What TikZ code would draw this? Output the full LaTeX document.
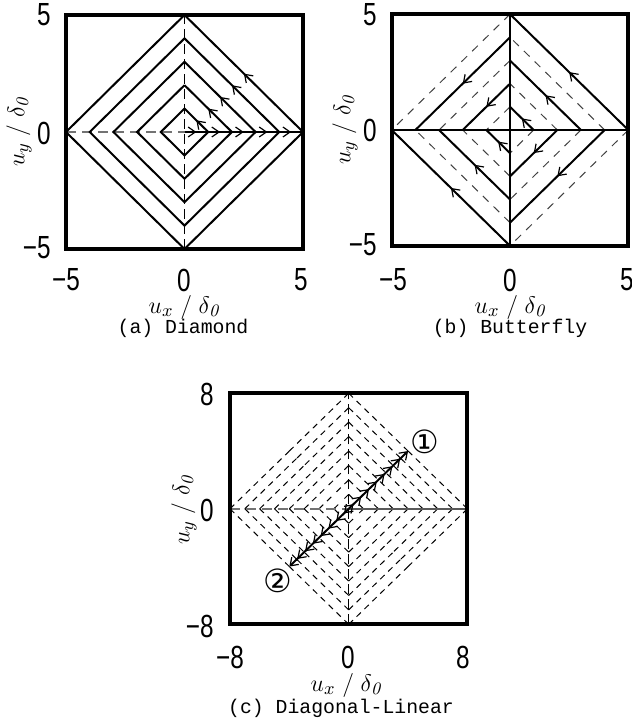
\documentclass[tikz,border=0pt]{standalone}
\usepackage{fontspec}
\usepackage{tikz}
\usetikzlibrary{arrows.meta,decorations.markings}
\newfontfamily\tickfont[FakeStretch=0.76]{Liberation Sans}
\newfontfamily\capfont{Liberation Mono}
\newfontfamily\symfont{DejaVu Sans}
\newcommand{\uxlabel}{$u_x\;/\;\delta_{\mathit{0}}$}
\newcommand{\uylabel}{$u_y\;/\;\delta_{\mathit{0}}$}

\begin{document}
\begin{tikzpicture}[
    x=0.5pt,y=-0.5pt,
    ticklabel/.style={font=\tickfont\fontsize{16}{16}\selectfont,inner sep=0pt},
    axistitle/.style={font=\fontsize{12.5}{12.5}\selectfont,inner sep=0pt},
    captext/.style={font=\capfont\fontsize{9.9}{10}\selectfont,inner sep=0pt},
    frame/.style={line width=2pt},
    loadline/.style={line width=1pt},
    axisline/.style={line width=1.4pt},
    centredash/.style={line width=0.5pt,dash pattern=on 5pt off 2.5pt},
    greydash/.style={line width=0.9pt,black!55,dash pattern=on 5pt off 3pt},
    fielddash/.style={line width=0.5pt,black!75,dash pattern=on 4pt off 3.5pt},
    griddash/.style={line width=0.5pt,dash pattern=on 3pt off 2.5pt},
    barb/.tip={Straight Barb[length=3.6pt,width=5pt,line width=0.6pt]},
    midarrow/.style={postaction={decorate},decoration={markings,
      mark=at position 0.5 with {\arrow{barb}}}},
    multiarrow/.style={-barb,postaction={decorate},decoration={markings,
      mark=between positions 0.08 and 0.87 step 0.1314 with {\arrow{barb}}}}
  ]
  \useasboundingbox (0,0) rectangle (631,727);

  % (a) Diamond
  \begin{scope}[shift={(184.5,132)},x=11.85pt,y=11.7pt]
    \draw[greydash] (-5,0) -- (0,0);
    \draw[centredash] (0,-5) -- (0,5);
    \foreach \r in {1,...,5} {
      \draw[loadline] (\r,0) -- (0,-\r) -- (-\r,0) -- (0,\r);
      \draw[loadline,midarrow] (\r,0) -- (0,\r);
      \draw[axisline,midarrow] ({\r-1},0) -- (\r,0);
    }
    \draw[frame] (-5,-5) rectangle (5,5);
  \end{scope}
  \node[ticklabel,anchor=east] (ay5) at (51,15) {5};
  \node[ticklabel,anchor=east] (ay0) at (51,133) {0};
  \node[ticklabel,anchor=east] (aym) at (51,248) {−5};
  \node[ticklabel] (axm) at (66,280) {−5};
  \node[ticklabel] (ax0) at (184,280) {0};
  \node[ticklabel] (ax5) at (301,280) {5};
  \node[axistitle] (axtitle) at (184,307) {\uxlabel};
  \node[axistitle,rotate=90] (aytitle) at (19,132) {\uylabel};
  \node[captext] (acap) at (183,328) {(a) Diamond};

  % (b) Butterfly
  \begin{scope}[shift={(510,130)},x=11.83pt,y=11.58pt]
    \foreach \r in {2,4} {
      \draw[fielddash] (\r,0) -- (0,\r);
      \draw[fielddash] (0,-\r) -- (-\r,0);
      \draw[loadline,midarrow] (0,\r) -- (-\r,0);
      \draw[loadline,midarrow] (\r,0) -- (0,-\r);
    }
    \foreach \r in {1,3,5} {
      \draw[fielddash] (0,\r) -- (-\r,0);
      \draw[fielddash] (\r,0) -- (0,-\r);
      \draw[loadline,midarrow] (\r,0) -- (0,\r);
      \draw[loadline,midarrow] (0,-\r) -- (-\r,0);
    }
    \draw[loadline] (-5,0) -- (5,0);
    \draw[line width=0.6pt] (0,-5) -- (0,5);
    \draw[axisline] (0,-4) -- (0,3);
    \draw[frame] (-5,-5) rectangle (5,5);
  \end{scope}
  \node[ticklabel,anchor=east] (by5) at (377,15) {5};
  \node[ticklabel,anchor=east] (by0) at (377,130) {0};
  \node[ticklabel,anchor=east] (bym) at (377,245) {−5};
  \node[ticklabel] (bxm) at (393,280) {−5};
  \node[ticklabel] (bx0) at (510,280) {0};
  \node[ticklabel] (bx5) at (627,280) {5};
  \node[axistitle] (bxtitle) at (510,307) {\uxlabel};
  \node[axistitle,rotate=90] (bytitle) at (345,130) {\uylabel};
  \node[captext] (bcap) at (510,328) {(b) Butterfly};

  % (c) Diagonal-Linear
  \begin{scope}[shift={(348.7,508.8)},x=7.42pt,y=7.22pt]
    \foreach \r in {1,...,8} {
      \foreach \sx/\sy in {1/1,1/-1,-1/1,-1/-1} {
        \draw[griddash] ({\sx*\r},0) -- ({\sx*\r/2},{\sy*\r/2});
        \draw[griddash] (0,{\sy*\r}) -- ({\sx*\r/2},{\sy*\r/2});
      }
    }
    \draw[greydash,line width=0.7pt] (-8,0) -- (0,0);
    \draw[line width=0.7pt,black!65] (0,0) -- (8,0);
    \draw[centredash] (0,-8) -- (0,8);
    \draw[loadline,multiarrow] (0,0) -- (4,4);
    \draw[loadline,multiarrow] (0,0) -- (-4,-4);
    \draw[frame] (-8,-8) rectangle (8,8);
  \end{scope}
  \node[font=\symfont\fontsize{16}{16}\selectfont,inner sep=0pt] (pone) at (425,442) {①};
  \node[font=\symfont\fontsize{16}{16}\selectfont,inner sep=0pt] (ptwo) at (278,581) {②};
  \node[ticklabel,anchor=east] (cy8) at (214,394) {8};
  \node[ticklabel,anchor=east] (cy0) at (214,510) {0};
  \node[ticklabel,anchor=east] (cym) at (214,626) {−8};
  \node[ticklabel] (cxm) at (230,657) {−8};
  \node[ticklabel] (cx0) at (348,657) {0};
  \node[ticklabel] (cx8) at (463,657) {8};
  \node[axistitle] (cxtitle) at (346,685) {\uxlabel};
  \node[axistitle,rotate=90] (cytitle) at (184,510) {\uylabel};
  \node[captext] (ccap) at (341,708) {(c) Diagonal-Linear};
\end{tikzpicture}
\end{document}
